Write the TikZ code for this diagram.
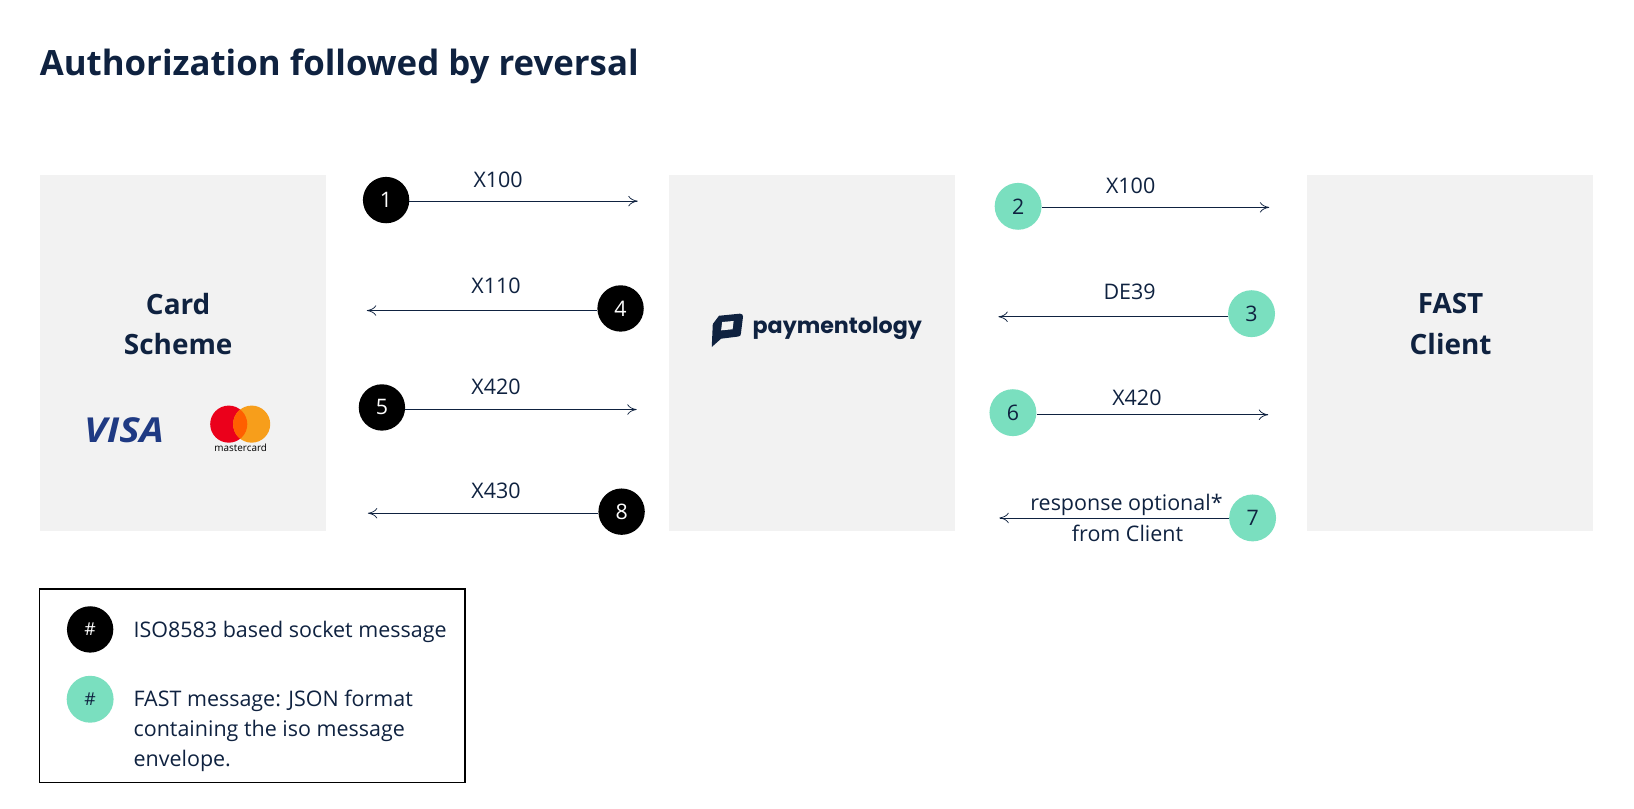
\documentclass[tikz,border=0pt]{standalone}
\usepackage{fontspec}
\setmainfont{Open Sans}
\newfontfamily\payfont{Poppins}
\definecolor{ink}{HTML}{0F2240}
\definecolor{panel}{HTML}{F2F2F2}
\definecolor{mint}{HTML}{7ADFBF}
\definecolor{visablue}{HTML}{1F3A83}
\definecolor{mcred}{HTML}{EB001B}
\definecolor{mcorange}{HTML}{F79E1B}
\definecolor{mcmid}{HTML}{FF5F00}
\tikzset{
  panelbox/.style={fill=panel,draw=none,minimum width=274.5pt,minimum height=342pt,inner sep=0pt},
  blackdot/.style={circle,fill=black,text=white,minimum size=44.5pt,inner sep=0pt,font=\fontsize{20.5}{22}\selectfont},
  mintdot/.style={circle,fill=mint,text=ink,minimum size=45pt,inner sep=0pt,font=\fontsize{20.5}{22}\selectfont},
  msg/.style={text=ink,inner sep=0pt,font=\fontsize{20.6}{25}\selectfont},
  flow/.style={draw=ink,line width=0.8pt,-{To[length=9pt,width=10pt,line width=0.7pt]}},
  heading/.style={text=ink,inner sep=0pt,align=center,font=\fontsize{26.8}{39}\selectfont\bfseries},
}
\usetikzlibrary{arrows.meta}
\begin{document}
\begin{tikzpicture}[x=1pt,y=-1pt]
\useasboundingbox (0,0) rectangle (1568,775.4);
\fill[white] (0,0) rectangle (1568,775.4);
\node[anchor=west,text=ink,inner sep=0pt,font=\fontsize{33.4}{38}\selectfont\bfseries] (title) at (38,64) {Authorization followed by reversal};
% panels
\node[panelbox] (scheme) at (175.4,338.5) {};
\node[panelbox] (pay) at (779.2,338.5) {};
\node[panelbox] (client) at (1391.5,338.5) {};
\node[heading] (schemet) at (171,311) {Card\\Scheme};
\node[heading] (clientt) at (1392,311) {FAST\\Client};
% logos
\node[text=visablue,inner sep=0pt,font=\fontsize{33}{33}\selectfont\bfseries\itshape,xscale=1.12] (visa) at (119,413) {VISA};
\fill[mcred] (219.5,407) circle (17.8pt);
\fill[mcorange] (241.5,407) circle (17.8pt);
\begin{scope}
\clip (219.5,407) circle (17.8pt);
\fill[mcmid] (241.5,407) circle (17.8pt);
\end{scope}
\node[text=black,inner sep=0pt,font=\fontsize{9.5}{10}\selectfont] (mc) at (231,430) {mastercard};
\fill[ink] (684,311) -- (690,303) -- (710,301) .. controls (712,301) and (713,302) .. (713,304) -- (711,320) .. controls (711,322) and (710,323) .. (708,323) -- (692,325) -- (683,333) -- cycle;
\fill[panel] (693,309) -- (704,308) -- (703,316) -- (692,317) -- cycle;
\node[anchor=west,text=ink,inner sep=0pt,font=\payfont\fontsize{21.3}{26}\selectfont\bfseries] (payname) at (722,315) {paymentology};
% left flows
\node[blackdot] (n1) at (370.5,192) {1};
\node[blackdot] (n4) at (595.5,296) {4};
\node[blackdot] (n5) at (366.5,391) {5};
\node[blackdot] (n8) at (596.5,491) {8};
\coordinate (e1) at (612,193);
\coordinate (e4) at (352,298);
\coordinate (e5) at (611,393);
\coordinate (e8) at (353,492.5);
\draw[flow] (n1.east |- e1) -- (e1);
\draw[flow] (n4.west |- e4) -- (e4);
\draw[flow] (n5.east |- e5) -- (e5);
\draw[flow] (n8.west |- e8) -- (e8);
\node[msg] (m1) at (478,173) {X100};
\node[msg] (m4) at (476,274) {X110};
\node[msg] (m5) at (476,371) {X420};
\node[msg] (m8) at (476,471) {X430};
% right flows
\node[mintdot] (n2) at (977,198) {2};
\node[mintdot] (n3) at (1201,301) {3};
\node[mintdot] (n6) at (972,396) {6};
\node[mintdot] (n7) at (1202,497) {7};
\coordinate (e2) at (1218,199);
\coordinate (e3) at (958,304);
\coordinate (e6) at (1217,398);
\coordinate (e7) at (959,497);
\draw[flow] (n2.east |- e2) -- (e2);
\draw[flow] (n3.west |- e3) -- (e3);
\draw[flow] (n6.east |- e6) -- (e6);
\draw[flow] (n7.west |- e7) -- (e7);
\node[msg] (m2) at (1085,178) {X100};
\node[msg] (m3) at (1084,280) {DE39};
\node[msg] (m6) at (1091,382) {X420};
\node[msg] (m7a) at (1081,485) {response optional*};
\node[msg] (m7b) at (1082,512) {from Client};
% legend
\node[draw=black,line width=1.5pt,fill=none,minimum width=408pt,minimum height=186pt,inner sep=0pt] (legend) at (242,658) {};
\node[blackdot,font=\fontsize{17}{18}\selectfont] (k1) at (86.5,604) {\#};
\node[mintdot,font=\fontsize{17}{18}\selectfont] (k2) at (86.5,671) {\#};
\node[anchor=west,msg] (k1t) at (128,606) {ISO8583 based socket message};
\node[anchor=north west,msg,align=left,font=\fontsize{20.6}{29}\selectfont] (k2t) at (128,662) {FAST message: JSON format\\containing the iso message\\envelope.};
\end{tikzpicture}
\end{document}
